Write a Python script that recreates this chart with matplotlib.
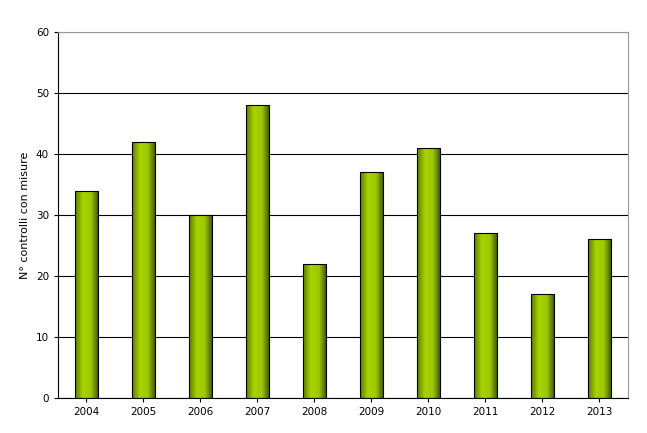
import numpy as np
import matplotlib.pyplot as plt
from matplotlib.colors import LinearSegmentedColormap

years = ['2004', '2005', '2006', '2007', '2008', '2009', '2010', '2011', '2012', '2013']
counts = [34, 42, 30, 48, 22, 37, 41, 27, 17, 26]

fig = plt.figure(figsize=(6.47, 4.33), dpi=100)
ax = fig.add_axes([0.0896, 0.081, 0.881, 0.845])

cmap = LinearSegmentedColormap.from_list('g', ['#5a7a00', '#a8d400', '#9cc800', '#3a4d00'])
grad = np.linspace(0, 1, 256).reshape(1, -1)

x = np.arange(len(years))
bars = ax.bar(x, counts, width=0.42, color='none', edgecolor='black', linewidth=0.8, zorder=3)
for b in bars:
    x0, y0 = b.get_x(), b.get_y()
    im = ax.imshow(grad, cmap=cmap, aspect='auto', zorder=2,
                   extent=[x0, x0 + b.get_width(), y0, y0 + b.get_height()])
    im.set_clip_path(b)

ax.set_xlim(-0.5, len(years) - 0.5)
ax.set_ylim(0, 60)
ax.set_yticks(range(0, 61, 10))
ax.set_xticks(x)
ax.set_xticklabels(years)
ax.yaxis.grid(True, color='black', linewidth=0.8)
ax.set_axisbelow(True)
for s in ['top', 'right']:
    ax.spines[s].set_color('#999999')
ax.tick_params(labelsize=7.5, length=3)
ax.set_ylabel('N° controlli con misure', fontsize=8)

fig.savefig('out.png', dpi=100)
